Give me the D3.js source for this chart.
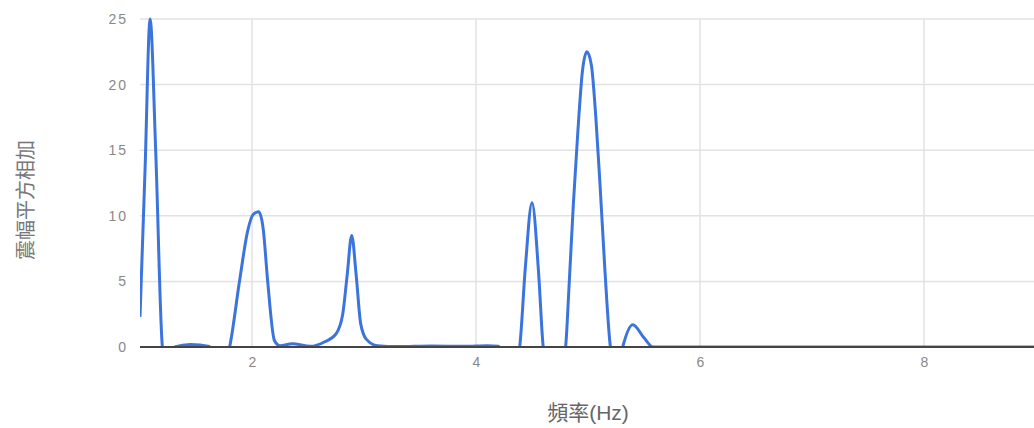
<!DOCTYPE html>
<html>
<head>
<meta charset="utf-8">
<script src="https://cdn.jsdelivr.net/npm/d3@7"></script>
<style>
  html, body { margin: 0; padding: 0; background: #fff; }
  svg { display: block; }
  text { font-family: Arial, "Liberation Sans", "Noto Sans CJK TC", sans-serif; }
</style>
</head>
<body>
<svg id="chart" width="1034" height="428"></svg>
<script>
// Spectrum: frequency (Hz) vs. summed squared amplitude
const freqs = [1.00, 1.045, 1.09, 1.14, 1.20, 1.25, 1.31, 1.45, 1.62, 1.70, 1.80, 1.89, 1.96, 2.01, 2.06, 2.10, 2.14, 2.20, 2.25, 2.36, 2.52, 2.65, 2.75, 2.81, 2.85, 2.89, 2.93, 2.97, 3.02, 3.12, 3.30, 3.60, 3.90, 4.10, 4.20, 4.30, 4.39, 4.44, 4.50, 4.56, 4.60, 4.70, 4.80, 4.83, 4.87, 4.91, 4.95, 4.99, 5.03, 5.07, 5.11, 5.15, 5.20, 5.26, 5.31, 5.40, 5.50, 5.58, 5.70, 6.00, 7.00, 8.00, 9.00];
const power = [2.3, 13.5, 25.0, 15.0, 0.0, -2.0, 0.0, 0.2, 0.05, -2.0, 0.0, 5.1, 8.8, 10.1, 10.3, 9.0, 5.0, 0.5, 0.1, 0.25, 0.05, 0.4, 1.0, 2.5, 5.5, 8.5, 5.5, 1.8, 0.6, 0.1, 0.03, 0.08, 0.05, 0.1, 0.05, -3.0, 0.0, 6.0, 11.0, 5.5, 0.0, -4.0, 0.0, 4.5, 11.0, 16.5, 21.0, 22.5, 21.5, 17.5, 12.0, 6.0, 0.0, -2.0, 0.0, 1.7, 0.7, 0.0, 0.0, 0.0, 0.0, 0.0, 0.0];
const xTicks = [2, 4, 6, 8];
const yTicks = [0, 5, 10, 15, 20, 25];
const xTitle = "頻率(Hz)";
const yTitle = "震幅平方相加";

const svg = d3.select("#chart");
const plotL = 140, plotR = 1036, plotT = 19, plotB = 347;

const x = d3.scaleLinear().domain([1, 9]).range([plotL, plotR]);
const y = d3.scaleLinear().domain([0, 25]).range([plotB, plotT]);

// gridlines
const grid = svg.append("g");
grid.selectAll("line.h").data(yTicks.filter(d => d > 0)).join("line")
  .attr("class", "h")
  .attr("x1", plotL).attr("x2", plotR)
  .attr("y1", d => y(d)).attr("y2", d => y(d))
  .attr("stroke", "#e2e2e2").attr("stroke-width", 1.5);
grid.selectAll("line.v").data(xTicks).join("line")
  .attr("class", "v")
  .attr("x1", d => x(d)).attr("x2", d => x(d))
  .attr("y1", plotT).attr("y2", plotB)
  .attr("stroke", "#e2e2e2").attr("stroke-width", 1.5);

// series, clipped to plot area
svg.append("clipPath").attr("id", "plotClip")
  .append("rect").attr("x", plotL).attr("y", plotT - 6)
  .attr("width", plotR - plotL).attr("height", plotB - plotT + 6.5);

const pts = freqs.map((f, i) => [f, power[i]]);
const line = d3.line().x(d => x(d[0])).y(d => y(d[1])).curve(d3.curveMonotoneX);
svg.append("path").datum(pts)
  .attr("clip-path", "url(#plotClip)")
  .attr("d", line)
  .attr("fill", "none")
  .attr("stroke", "#3a74dc")
  .attr("stroke-width", 3)
  .attr("stroke-linejoin", "round");

// baseline
svg.append("line")
  .attr("x1", plotL).attr("x2", plotR)
  .attr("y1", y(0)).attr("y2", y(0))
  .attr("stroke", "#444").attr("stroke-width", 2);

// tick labels
const xAxis = svg.append("g").attr("transform", `translate(0,${plotB})`)
  .call(d3.axisBottom(x).tickValues(xTicks).tickSize(0).tickPadding(10).tickFormat(d3.format("d")));
xAxis.select(".domain").remove();
xAxis.selectAll("text").attr("font-size", 14).attr("fill", "#888")
  .attr("font-family", "Arial, 'Liberation Sans', sans-serif");

const yAxis = svg.append("g").attr("transform", `translate(${plotL},0)`)
  .call(d3.axisLeft(y).tickValues(yTicks).tickSize(0).tickPadding(12).tickFormat(d3.format("d")));
yAxis.select(".domain").remove();
yAxis.selectAll("text").attr("font-size", 14).attr("fill", "#888")
  .attr("letter-spacing", "2px")
  .attr("font-family", "Arial, 'Liberation Sans', sans-serif");

// axis titles
svg.append("text")
  .attr("x", (plotL + plotR) / 2).attr("y", 420)
  .attr("text-anchor", "middle")
  .attr("font-size", 21).attr("fill", "#666")
  .attr("font-family", "'Noto Sans CJK TC', Arial, sans-serif")
  .text(xTitle);

svg.append("text")
  .attr("transform", "translate(33,200) rotate(-90)")
  .attr("text-anchor", "middle")
  .attr("font-size", 20).attr("fill", "#777")
  .attr("font-family", "'Noto Sans CJK TC', sans-serif")
  .text(yTitle);
</script>
</body>
</html>
